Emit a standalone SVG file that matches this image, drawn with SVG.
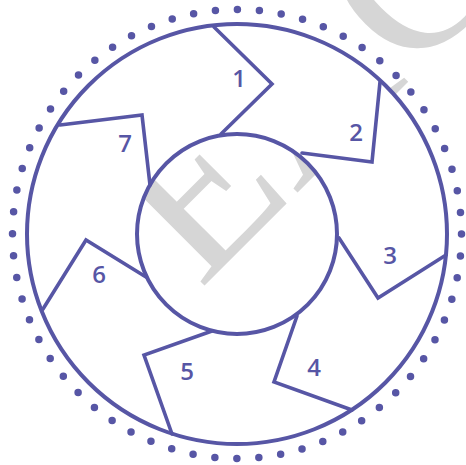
<svg xmlns="http://www.w3.org/2000/svg" width="466" height="465" viewBox="0 0 466 465">
<style>
.ln{fill:none;stroke:#5756a5;stroke-width:3.6;stroke-linejoin:miter;stroke-linecap:round}
.ring{fill:none;stroke:#5756a5;stroke-width:4}
.lbl{font-family:"Open Sans","DejaVu Sans",sans-serif;font-weight:600;font-size:24px;fill:#5756a5;text-anchor:middle}
.wm{font-family:"Liberation Serif",serif;font-size:222px;fill:#d6d6d6}
</style>
<rect width="466" height="465" fill="#fff"/>
<g id="watermark">
<text class="wm" transform="translate(200,290) rotate(-45)">EAC</text>
</g>
<path id="annulus" fill="#fff" fill-rule="evenodd" d="M27,234a210,210 0 1,0 420,0a210,210 0 1,0 -420,0ZM137,234a100,100 0 1,0 200,0a100,100 0 1,0 -200,0Z"/>
<g id="dots">
<circle cx="237" cy="234" r="224.5" fill="none" stroke="#5756a5" stroke-width="7.5" stroke-linecap="round" stroke-dasharray="0 22.04"/>
</g>
<g id="outer-circle"><circle class="ring" cx="237" cy="234" r="210"/></g>
<g id="inner-circle"><circle class="ring" cx="237" cy="234" r="100"/></g>
<g id="connectors">
<polyline class="ln" points="214,27 272,84 221,134"/>
<polyline class="ln" points="380,82 372,162 302,153"/>
<polyline class="ln" points="446,255 378,298 339,238"/>
<polyline class="ln" points="352,410 274,382 297,316"/>
<polyline class="ln" points="172,434 144,355 212,331"/>
<polyline class="ln" points="43,309 86,240 146,277"/>
<polyline class="ln" points="60,125 142,115 150,185"/>
</g>
<g id="seg1"><text class="lbl" x="239" y="87">1</text></g>
<g id="seg2"><text class="lbl" x="356" y="141">2</text></g>
<g id="seg3"><text class="lbl" x="390" y="264">3</text></g>
<g id="seg4"><text class="lbl" x="314" y="376">4</text></g>
<g id="seg5"><text class="lbl" x="187" y="380">5</text></g>
<g id="seg6"><text class="lbl" x="99" y="283">6</text></g>
<g id="seg7"><text class="lbl" x="125" y="152">7</text></g>
</svg>
